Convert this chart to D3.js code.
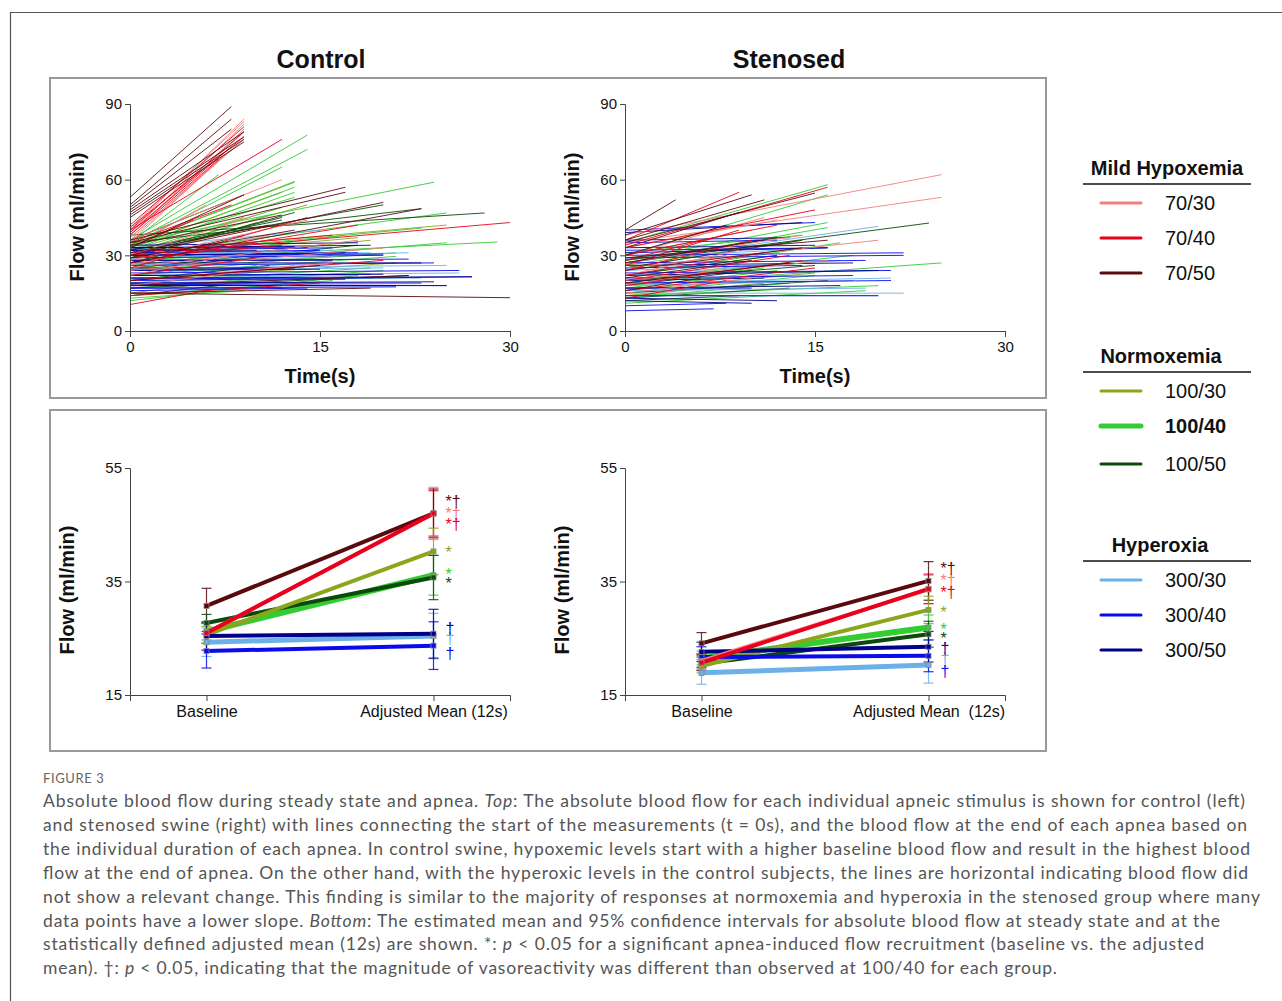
<!DOCTYPE html>
<html>
<head>
<meta charset="utf-8">
<script src="https://cdn.jsdelivr.net/npm/d3@7"></script>
<style>
body { margin: 0; background: #fff; }
svg text { font-family: "Liberation Sans", Arial, sans-serif; fill: #111; }
</style>
</head>
<body>
<svg id="fig" width="1282" height="1001"></svg>
<script>
// conditions in legend order (PaO2 / PaCO2)
var conditions = ["70/30", "70/40", "70/50", "100/30", "100/40", "100/50", "300/30", "300/40", "300/50"];
var colors = ["#f47d7d", "#e8001c", "#5a0a0e", "#8aa61c", "#33cc33", "#0b4a0b", "#6cb0e8", "#0a0aee", "#00008a"];
var groupTitles = ["Mild Hypoxemia", "Normoxemia", "Hyperoxia"];

//*** top panels: every apnea as [duration (s), flow at 0 s, flow at end] ***//
var ctrl7030 = [[9,40,84],[9,39,82],[9,38,80],[8.8,38,78],[9,37,76],[8.5,36,74],[7.5,35,70],[9,41,83],[8,37,72],[12,36,60],[6,33,50],[10,30,46],[14,28,44],[18,25,36],[8,22,30],[13,18,26],[20,24,33],[11,26,38],[16,20,27]];
var ctrl7040 = [[9,42,81],[9,40,79],[8,39,73],[12,40,76],[7,38,68],[9,41,77],[30,30,43],[18,27,42],[14,25,45],[6,10.5,16],[10,22,29],[16,31,38],[12,29,34],[20,20,28],[8,35,50],[5,33,44],[15,14,19]];
var ctrl7050 = [[8,53,89],[8,50,84],[9,48,79],[9,47,77],[9,46,76],[9,45,75],[8,49,80],[17,36,57],[17,35,55],[9,33,54],[20,30,51],[23,27,48.5],[30,15,13.2],[19,15,17],[12,34,46],[11,31,42],[15,20,26],[22,18,22],[13,29,40]];
var ctrl10030 = [[13,34,59],[12,33,55],[14,30,50],[10,28,43],[19,26,36],[8,24,31],[16,22,30],[21,20,27],[11,15,22],[25,31,42],[6,27,35],[13,18,25],[18,29,37],[9,32,45]];
var ctrl10040 = [[14,36,77.7],[14,35,72],[13,34,59.3],[13,33,57],[13,32,55],[13,33,53],[12,31,49],[11,30,46],[24,35,59],[25,30,46.8],[25,25,35],[29,28,35.3],[23,30,40.8],[21,22,29.6],[20,17,24],[16,14,20],[18,12,22],[10,20,26],[9,13,16],[15,26,34],[7,35,62],[12,34,65],[17,27,38],[21,24,31],[11,22,30],[19,19,25]];
var ctrl10050 = [[28,38,46.8],[23,35,48.5],[20,32,50],[12,30,45],[13,29,47],[9,27,38],[15,24,32],[18,25,34],[11,20,26],[22,17,22],[7,14,18],[12,32,44],[9,36,54]];
var ctrl30030 = [[15,33,40],[22,29,31],[25,25,26],[18,21,22],[12,19,20],[20,24,25],[14,28,29],[26,22,23],[10,18,19],[16,30,32],[23,20,21],[8,26,27],[19,31,31]];
var ctrl30040 = [[25,18,18],[23,19,19],[27,20,21.5],[21,17,17.5],[18,30,31],[15,31,32],[20,29,30],[24,26,27],[13,33,33.5],[16,32,33],[19,22,22.5],[12,17,17],[22,28,28.5],[11,24,25],[17,21,20.5],[14,16,17],[25,18.5,18],[20,30,30.5],[26,23,24]];
var ctrl30050 = [[18,34,35],[14,33,33],[23,27,27],[27,21,21.5],[20,22,22.5],[17,30,31],[13,25,25],[24,19,19.5],[10,32,32],[16,28,28],[21,18,18],[19,33,34],[15,24,24.5]];

var sten7030 = [[25,38,62],[25,35,53],[20,25,36],[11,30,45],[9,22,32],[14,27,38],[7,18,24],[16,20,28],[12,33,44],[10,15,21]];
var sten7040 = [[9,36,55],[16,34,57],[15,33,48],[12,30,42],[9,26,40],[10,24,36],[13,20,30],[14,18,28],[8,13,20],[11,22,31],[7,28,37],[15,16,25]];
var sten7050 = [[4,40,52],[10,38,54],[11,36,52],[15,35,54.7],[9,33,47],[8,30,42],[12,27,37],[14,24,33],[10,21,28],[13,19,27],[6,16,21],[16,29,36]];
var sten10030 = [[10,30,40],[14,26,36],[12,22,30],[9,19,26],[15,16,23],[11,14,19],[13,28,35],[8,24,30]];
var sten10040 = [[16,35,58],[16,30,54],[16,28,43],[16,27,41],[17,22,35],[25,18,27],[18,20,30],[15,15,22],[13,13,19],[20,14,18],[12,17,24],[10,25,33],[14,31,38],[19,11,16],[11,19,25]];
var sten10050 = [[24,27,42.8],[14,25,36],[12,22,30],[10,18,24],[16,15,20],[13,13,17],[11,28,36],[15,20,26],[9,12,14]];
var sten30030 = [[20,27,41.5],[22,15,15],[20,14,14],[17,22,28],[18,18,20],[15,24,27],[19,16,17],[13,20,22],[16,29,33],[21,19,21]];
var sten30040 = [[15,40,43],[22,30,31],[22,29,30],[21,23,24],[21,19,20],[20,14,14],[7,8,8.8],[8,10,11],[14,25,26],[16,32,33],[18,21,22],[12,35,36],[10,17,17],[19,27,28]];
var sten30050 = [[14,39,43],[20,22,24],[12,13,12],[16,31,33],[18,26,27],[15,33,34],[11,20,21],[13,36,37],[17,17,18],[10,12,11]];

var ctrlLines = [ctrl7030, ctrl7040, ctrl7050, ctrl10030, ctrl10040, ctrl10050, ctrl30030, ctrl30040, ctrl30050];
var stenLines = [sten7030, sten7040, sten7050, sten10030, sten10040, sten10050, sten30030, sten30040, sten30050];

//*** bottom panels: estimated means and 95% CI half widths ***//
var timepoints = ["Baseline", "Adjusted Mean (12s)"];
var ctrlBase = [25.9, 25.9, 30.7, 25.6, 26.2, 27.7, 24.3, 22.75, 25.4];
var ctrlAdj = [47.0, 47.0, 47.0, 40.3, 36.1, 35.7, 25.4, 23.7, 25.8];
var ctrlBaseCI = [1.8, 1.8, 3.1, 1.5, 1.5, 1.5, 2.5, 3.0, 2.5];
var ctrlAdjCI = [4.6, 4.0, 4.3, 4.1, 3.5, 3.9, 4.0, 4.2, 4.3];
var ctrlSig = ["*†", "*†", "*†", "*", "*", "*", "†", "†", "†"];
var ctrlSigY = [47.2, 45.3, 49.4, 40.4, 36.5, 34.9, 25.2, 22.6, 27.0];

var stenBase = [21.0, 20.7, 24.1, 20.1, 21.5, 20.5, 18.9, 21.7, 22.6];
var stenAdj = [33.6, 33.7, 35.1, 30.0, 26.9, 25.7, 20.3, 21.9, 23.5];
var stenBaseCI = [1.3, 1.3, 1.9, 1.2, 1.2, 1.2, 2.0, 1.8, 1.7];
var stenAdjCI = [2.5, 2.6, 3.4, 2.4, 2.2, 2.3, 3.2, 2.8, 2.7];
var stenSig = ["*†", "*†", "*†", "*", "*", "*", "†", "†", "†"];
var stenSigY = [35.4, 33.3, 37.6, 29.8, 26.8, 25.2, 21.7, 19.4, 23.5];

var topTicksX = [0, 15, 30];
var topTicksY = [0, 30, 60, 90];
var botTicksY = [15, 35, 55];

var svg = d3.select("#fig");

// outer frame and the two panel boxes
function drawFrame() {
	svg.append("path")
		.attr("d", "M10.5,1001V12.5H1282")
		.attr("fill", "none")
		.attr("stroke", "#555")
		.attr("stroke-width", 1.2);

	svg.append("rect").attr("x", 50).attr("y", 78).attr("width", 996).attr("height", 320)
		.attr("fill", "none").attr("stroke", "#999").attr("stroke-width", 2);
	svg.append("rect").attr("x", 50).attr("y", 410).attr("width", 996).attr("height", 341)
		.attr("fill", "none").attr("stroke", "#999").attr("stroke-width", 2);

	svg.append("text").attr("x", 321).attr("y", 68).attr("text-anchor", "middle")
		.style("font-size", "25px").style("font-weight", "bold").text("Control");
	svg.append("text").attr("x", 789).attr("y", 68).attr("text-anchor", "middle")
		.style("font-size", "25px").style("font-weight", "bold").text("Stenosed");
}

function styleAxis(g, size) {
	g.attr("font-family", null);
	g.select(".domain").attr("stroke", "#444");
	g.selectAll(".tick line").attr("stroke", "#444");
	g.selectAll(".tick text").style("font-size", size + "px").attr("fill", "#111");
}

function yTitle(x, y) {
	svg.append("text")
		.attr("transform", "translate(" + x + "," + y + ") rotate(-90)")
		.attr("text-anchor", "middle")
		.style("font-size", "20px").style("font-weight", "bold")
		.text("Flow (ml/min)");
}

//*** individual apnea lines ***//
function drawTop(left, groups) {
	var x = d3.scaleLinear().domain([0, 30]).range([left, left + 380]);
	var y = d3.scaleLinear().domain([0, 90]).range([331, 104]);

	var g = svg.append("g");
	// greens first, then blues, reds on top
	[3, 4, 5, 6, 7, 8, 0, 1, 2].forEach(function(i) {
		g.selectAll(null)
			.data(groups[i])
			.enter()
			.append("line")
			.attr("x1", x(0))
			.attr("y1", function(d) { return y(d[1]); })
			.attr("x2", function(d) { return x(d[0]); })
			.attr("y2", function(d) { return y(d[2]); })
			.attr("stroke", colors[i])
			.attr("stroke-width", 0.9);
	});

	var ax = svg.append("g").attr("transform", "translate(0,331)")
		.call(d3.axisBottom(x).tickValues(topTicksX).tickSize(6).tickPadding(4));
	styleAxis(ax, 15);
	var ay = svg.append("g").attr("transform", "translate(" + left + ",0)")
		.call(d3.axisLeft(y).tickValues(topTicksY).tickSize(5).tickPadding(3));
	styleAxis(ay, 15);

	svg.append("text").attr("x", left + 190).attr("y", 383).attr("text-anchor", "middle")
		.style("font-size", "20px").style("font-weight", "bold").text("Time(s)");
	yTitle(left - 46, 217);
}

//*** means with confidence intervals ***//
function drawBottom(left, base, adj, baseCI, adjCI, sig, sigY, adjLabel) {
	var x = d3.scalePoint().domain(timepoints).range([left, left + 380]).padding(0.337);
	var y = d3.scaleLinear().domain([15, 55]).range([695, 468]);
	var x0 = x(timepoints[0]), x1 = x(timepoints[1]);

	var g = svg.append("g");

	// error bars
	conditions.forEach(function(c, i) {
		[[x0, base[i], baseCI[i]], [x1, adj[i], adjCI[i]]].forEach(function(p) {
			var lo = y(p[1] - p[2]), hi = y(p[1] + p[2]);
			g.append("line").attr("x1", p[0]).attr("x2", p[0]).attr("y1", lo).attr("y2", hi)
				.attr("stroke", colors[i]).attr("stroke-width", 1.2).attr("opacity", 0.85);
			[lo, hi].forEach(function(v) {
				g.append("line").attr("x1", p[0] - 5).attr("x2", p[0] + 5).attr("y1", v).attr("y2", v)
					.attr("stroke", colors[i]).attr("stroke-width", 1.2).attr("opacity", 0.85);
			});
		});
	});

	// connecting lines, 100/40 thickest
	[4, 5, 3, 6, 8, 7, 0, 2, 1].forEach(function(i) {
		g.append("line")
			.attr("x1", x0).attr("y1", y(base[i]))
			.attr("x2", x1).attr("y2", y(adj[i]))
			.attr("stroke", colors[i])
			.attr("stroke-width", i === 4 ? 6 : (i === 6 ? 5 : 4));
		[[x0, base[i]], [x1, adj[i]]].forEach(function(p) {
			g.append("rect").attr("x", p[0] - 2.5).attr("y", y(p[1]) - 2.5)
				.attr("width", 5).attr("height", 5)
				.attr("fill", colors[i]).attr("stroke", "#888").attr("stroke-width", 0.8);
		});
	});

	// significance marks
	conditions.forEach(function(c, i) {
		g.append("text")
			.attr("x", x1 + 12)
			.attr("y", y(sigY[i]) + 7)
			.style("font-size", "16px")
			.style("fill", colors[i])
			.text(sig[i]);
	});

	var ax = svg.append("g").attr("transform", "translate(0,695)")
		.call(d3.axisBottom(x).tickSize(6).tickPadding(5));
	styleAxis(ax, 16);
	ax.selectAll(".tick text").filter(function(d) { return d === timepoints[1]; }).text(adjLabel);
	var ay = svg.append("g").attr("transform", "translate(" + left + ",0)")
		.call(d3.axisLeft(y).tickValues(botTicksY).tickSize(5).tickPadding(3));
	styleAxis(ay, 15);

	yTitle(left - 56, 590);
}

//*** legend on the right ***//
function drawLegend() {
	var headY = [168, 356, 545];
	var headX = [1167, 1161, 1160];
	groupTitles.forEach(function(t, gi) {
		svg.append("text").attr("x", headX[gi]).attr("y", headY[gi] + 7).attr("text-anchor", "middle")
			.style("font-size", "20px").style("font-weight", "bold").text(t);
		svg.append("line").attr("x1", 1083).attr("x2", 1251)
			.attr("y1", headY[gi] + 16).attr("y2", headY[gi] + 16)
			.attr("stroke", "#111").attr("stroke-width", 1.5);
		for (var k = 0; k < 3; k++) {
			var i = gi * 3 + k;
			var yy = headY[gi] + 35 * (k + 1) + (gi === 1 && k === 2 ? 3 : 0);
			svg.append("line").attr("x1", 1101).attr("x2", 1141).attr("y1", yy).attr("y2", yy)
				.attr("stroke", colors[i]).attr("stroke-width", i === 4 ? 5 : 3)
				.attr("stroke-linecap", "round");
			svg.append("text").attr("x", 1165).attr("y", yy + 7)
				.style("font-size", "20px").style("font-weight", i === 4 ? "bold" : "normal")
				.text(conditions[i]);
		}
	});
}

//*** figure caption ***//
var captionLines = [
	[["Absolute blood flow during steady state and apnea. "], ["Top", 1], [": The absolute blood flow for each individual apneic stimulus is shown for control (left)"]],
	[["and stenosed swine (right) with lines connecting the start of the measurements (t = 0s), and the blood flow at the end of each apnea based on"]],
	[["the individual duration of each apnea. In control swine, hypoxemic levels start with a higher baseline blood flow and result in the highest blood"]],
	[["flow at the end of apnea. On the other hand, with the hyperoxic levels in the control subjects, the lines are horizontal indicating blood flow did"]],
	[["not show a relevant change. This finding is similar to the majority of responses at normoxemia and hyperoxia in the stenosed group where many"]],
	[["data points have a lower slope. "], ["Bottom", 1], [": The estimated mean and 95% confidence intervals for absolute blood flow at steady state and at the"]],
	[["statistically defined adjusted mean (12s) are shown. *: "], ["p", 1], [" < 0.05 for a significant apnea-induced flow recruitment (baseline vs. the adjusted"]],
	[["mean). †: "], ["p", 1], [" < 0.05, indicating that the magnitude of vasoreactivity was different than observed at 100/40 for each group."]]
];
var captionEnds = [1245, 1247, 1250, 1248, 1260, 1220, 1204, 1057];

function drawCaption() {
	svg.append("text").attr("x", 43).attr("y", 783)
		.style("font-family", "Lato, 'Open Sans', sans-serif")
		.style("font-size", "13px").style("letter-spacing", "0.6px").style("fill", "#666")
		.text("FIGURE 3");

	captionLines.forEach(function(line, li) {
		var t = svg.append("text")
			.attr("x", 43)
			.attr("y", 807 + li * 23.9)
			.attr("textLength", captionEnds[li] - 43)
			.attr("lengthAdjust", "spacing")
			.style("font-family", "Lato, 'Open Sans', sans-serif")
			.style("font-size", "17.5px")
			.style("fill", "#555");
		line.forEach(function(seg) {
			t.append("tspan").style("font-style", seg[1] ? "italic" : "normal").style("fill", "#555").text(seg[0]);
		});
	});
}

drawFrame();
drawTop(130, ctrlLines);
drawTop(625, stenLines);
drawBottom(130, ctrlBase, ctrlAdj, ctrlBaseCI, ctrlAdjCI, ctrlSig, ctrlSigY, "Adjusted Mean (12s)");
drawBottom(625, stenBase, stenAdj, stenBaseCI, stenAdjCI, stenSig, stenSigY, "Adjusted Mean\u00a0 (12s)");
drawLegend();
drawCaption();
</script>
</body>
</html>
